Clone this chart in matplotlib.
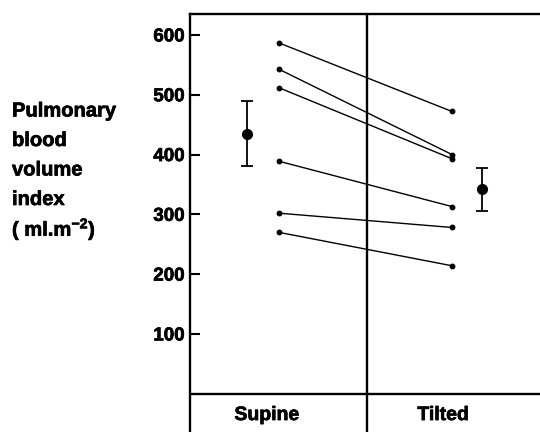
import matplotlib
matplotlib.use("Agg")
import matplotlib.pyplot as plt
import matplotlib.patheffects as pe

plt.rcParams['font.family'] = ['Liberation Sans', 'DejaVu Sans']
plt.rcParams['font.weight'] = 'bold'
plt.rcParams['mathtext.fontset'] = 'custom'
plt.rcParams['mathtext.rm'] = 'Liberation Sans:bold'
plt.rcParams['mathtext.it'] = 'Liberation Sans:bold'
plt.rcParams['mathtext.bf'] = 'Liberation Sans:bold'

# Data
conditions = ["Supine", "Tilted"]
supine_values = [587, 543, 512, 389, 302, 270]
tilted_values = [472, 400, 393, 313, 278, 214]
mean_values = [434, 343]
mean_upper = [489, 378]
mean_lower = [380, 306]
yticks = [100, 200, 300, 400, 500, 600]
ylabel_lines = ["Pulmonary", "blood", "volume", "index", r"( ml.m$^{-2}$)"]

W, H = 540, 432
fig = plt.figure(figsize=(5.4, 4.32), dpi=100)
ax_left, ax_right, ax_top = 190, 545, 14
ax = fig.add_axes([ax_left / W, 0, (ax_right - ax_left) / W, (H - ax_top) / H])
panel_w = 177
ax.set_xlim(0, (ax_right - ax_left) / panel_w)
ax.set_ylim(-64, 635)

heavy = [pe.withStroke(linewidth=0.5, foreground='black')]

lw_frame = 1.7
for s in ['left', 'top']:
    ax.spines[s].set_linewidth(lw_frame)
ax.spines['right'].set_visible(False)
ax.spines['bottom'].set_visible(False)
ax.axhline(0, color='black', lw=lw_frame)
ax.axvline(1, color='black', lw=lw_frame)

# individual lines
x_sup, x_til = 0.5, 1.48
for s, t in zip(supine_values, tilted_values):
    ax.plot([x_sup, x_til], [s, t], color='black', lw=1.0, marker='o',
            markersize=3.2, solid_capstyle='butt')

# means with error bars
x_means = [0.32, 1.65]
for xm, m, up, lo in zip(x_means, mean_values, mean_upper, mean_lower):
    ax.errorbar([xm], [m], yerr=[[m - lo], [up - m]], fmt='o', color='black',
                markersize=7, capsize=4, elinewidth=1.3, capthick=1.3)

ax.set_xticks([])
ax.set_yticks(yticks)
ax.set_yticklabels([str(v) for v in yticks], fontsize=13.5, fontweight='bold')
for lbl in ax.get_yticklabels():
    lbl.set_path_effects(heavy)
ax.tick_params(axis='y', direction='in', length=7, width=1.5, pad=4)

# condition labels
for xc, lab in zip([0.435, 1.43], conditions):
    ax.text(xc, -44, lab, ha='center', va='baseline', fontsize=14,
            fontweight='bold', path_effects=heavy)

# y label block
ys = [111, 140.5, 170, 199.5, 229]
for yl, txt in zip(ys, ylabel_lines):
    fig.text(12 / W, 1 - yl / H, txt, ha='left', va='center', fontsize=14.5,
             fontweight='bold', path_effects=heavy)

fig.savefig("out.png", dpi=100)
